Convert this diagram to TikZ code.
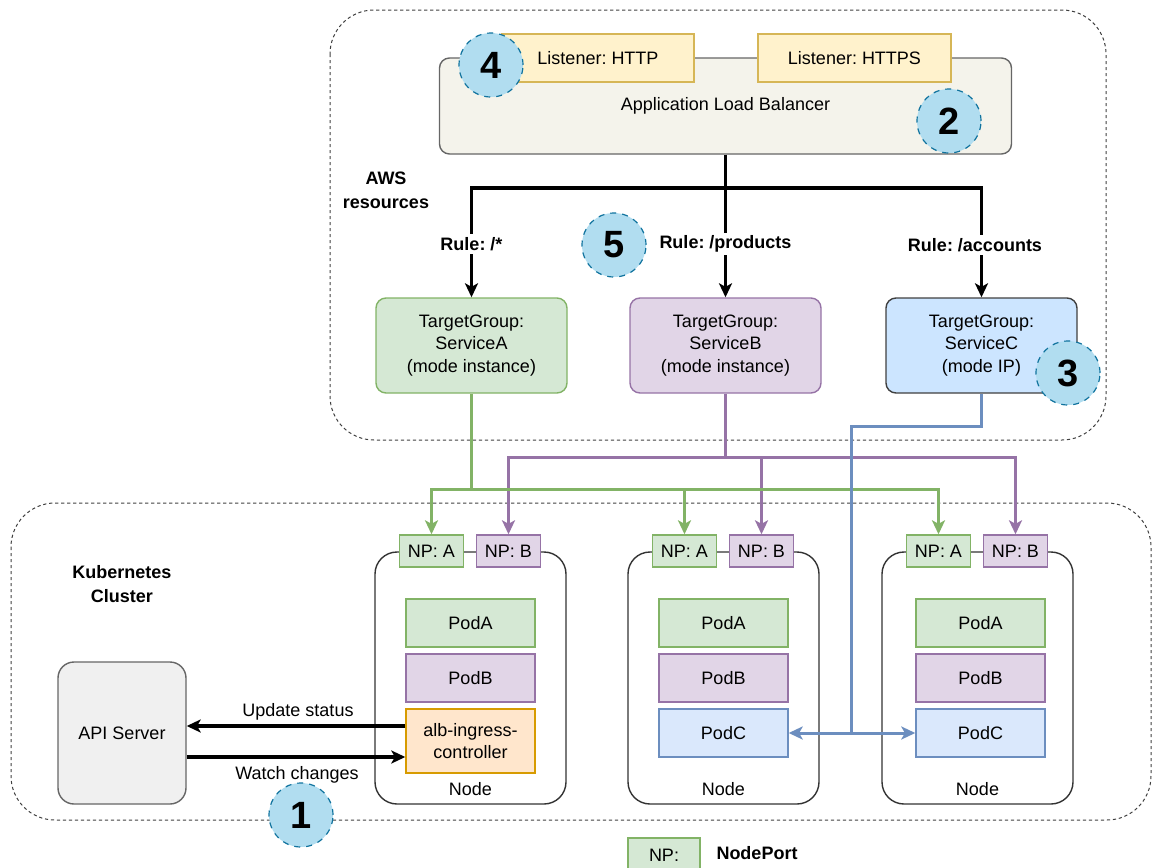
\documentclass[tikz,border=0pt]{standalone}
\usepackage{fontspec}
\setmainfont{Liberation Sans}
\usepackage{tikz}
\usetikzlibrary{arrows.meta}
\frenchspacing
\definecolor{grnfill}{HTML}{D5E8D4}
\definecolor{grnline}{HTML}{82B366}
\definecolor{purfill}{HTML}{E1D5E7}
\definecolor{purline}{HTML}{9673A6}
\definecolor{blufill}{HTML}{DAE8FC}
\definecolor{bluline}{HTML}{6C8EBF}
\definecolor{tgcfill}{HTML}{CCE5FF}
\definecolor{orgfill}{HTML}{FFE6CC}
\definecolor{orgline}{HTML}{D79B00}
\definecolor{ylwfill}{HTML}{FFF2CC}
\definecolor{ylwline}{HTML}{D6B656}
\definecolor{albfill}{HTML}{F4F3EB}
\definecolor{apifill}{HTML}{F0F0F0}
\definecolor{numfill}{HTML}{B1DDF0}
\definecolor{numline}{HTML}{10739E}
\tikzset{
  font={\fontsize{9pt}{11.25pt}\selectfont}}
\tikzset{
  box/.style={draw, line width=0.7pt, align=center},
  pgreen/.style={box, fill=grnfill, draw=grnline},
  ppurple/.style={box, fill=purfill, draw=purline},
  pblue/.style={box, fill=blufill, draw=bluline},
  podbox/.style={minimum width=64.5pt, minimum height=24pt},
  npbox/.style={minimum width=32pt, minimum height=16pt},
  tgbox/.style={box, rounded corners=5pt, minimum width=95.5pt, minimum height=47.5pt},
  kbnode/.style={draw=black!80, line width=0.7pt, rounded corners=11pt, minimum width=95.5pt, minimum height=126pt},
  numcirc/.style={circle, fill=numfill, draw=numline, dashed, line width=0.6pt, minimum size=32pt, font={\fontsize{19pt}{19pt}\selectfont\bfseries}},
  region/.style={draw=black!75, dash pattern=on 1.6pt off 1.4pt, line width=0.5pt, rounded corners=22pt},
  blkline/.style={line width=1.6pt, black},
  colline/.style={line width=1.5pt},
  tip/.style={-{Stealth[length=7pt, width=6.5pt, inset=1.8pt]}},
  rulelbl/.style={fill=white, inner sep=1.5pt, font={\fontsize{9pt}{11pt}\selectfont\bfseries}},
  boldlbl/.style={align=center, font={\fontsize{9pt}{12pt}\selectfont\bfseries}}}

\begin{document}
\begin{tikzpicture}[x=0.5pt,y=-0.5pt]
\tikzstyle{every node}+=[inner sep=0pt]
\useasboundingbox (0,0) rectangle (1153,868);
\draw [region] (330,10) rectangle (1106,440);
\draw [region] (11,503) rectangle (1151,820);
\node [boldlbl] (awslbl) at (386,190) {AWS\\resources};
\node [boldlbl] (k8slbl) at (122,584) {Kubernetes\\Cluster};

\node [box, fill=albfill, draw=black!60, rounded corners=5pt, minimum width=286pt, minimum height=48pt] (alb) at (725.5,106) {Application Load Balancer};
\node [box, fill=ylwfill, draw=ylwline, minimum width=96pt, minimum height=24pt] (lhttp) at (598,58) {Listener: HTTP};
\node [box, fill=ylwfill, draw=ylwline, minimum width=96.5pt, minimum height=24pt] (lhttps) at (854.5,58) {Listener: HTTPS};

\node [tgbox, pgreen] (tga) at (471.5,345.5) {TargetGroup:\\ServiceA\\(mode instance)};
\node [tgbox, ppurple] (tgb) at (725.5,345.5) {TargetGroup:\\ServiceB\\(mode instance)};
\node [tgbox, fill=tgcfill, draw=black!75] (tgc) at (981.5,345.5) {TargetGroup:\\ServiceC\\(mode IP)};

\node [box, fill=apifill, draw=black!60, rounded corners=8pt, minimum width=64pt, minimum height=71pt] (api) at (122,733) {API Server};

\node [kbnode] (node1) at (470.5,678) {};
\node [kbnode] (node2) at (723.5,678) {};
\node [kbnode] (node3) at (977.5,678) {};
\node (nodelbl1) at (470.5,789) {Node};
\node (nodelbl2) at (723.5,789) {Node};
\node (nodelbl3) at (977.5,789) {Node};

\node [pgreen, npbox] (npa1) at (431.5,551) {NP: A};
\node [ppurple, npbox] (npb1) at (508.5,551) {NP: B};
\node [pgreen, npbox] (npa2) at (684.5,551) {NP: A};
\node [ppurple, npbox] (npb2) at (761.5,551) {NP: B};
\node [pgreen, npbox] (npa3) at (938.5,551) {NP: A};
\node [ppurple, npbox] (npb3) at (1015.5,551) {NP: B};

\node [pgreen, podbox] (poda1) at (470.5,623) {PodA};
\node [ppurple, podbox] (podb1) at (470.5,678) {PodB};
\node [box, fill=orgfill, draw=orgline, minimum width=64.5pt, minimum height=32pt] (ctrl) at (470.5,741) {alb-ingress-\\controller};
\node [pgreen, podbox] (poda2) at (723.5,623) {PodA};
\node [ppurple, podbox] (podb2) at (723.5,678) {PodB};
\node [pblue, podbox] (podc2) at (723.5,733) {PodC};
\node [pgreen, podbox] (poda3) at (980.5,623) {PodA};
\node [ppurple, podbox] (podb3) at (980.5,678) {PodB};
\node [pblue, podbox] (podc3) at (980.5,733) {PodC};

\coordinate (albj) at (725.5,188);
\draw [blkline] (alb.south) -- (albj);
\draw [blkline, tip] (albj) -| (tga.north);
\draw [blkline, tip] (albj) -- (tgb.north);
\draw [blkline, tip] (albj) -| (tgc.north);
\node [rulelbl] (rulea) at (471.5,244) {Rule: /*};
\node [rulelbl] (ruleb) at (725.5,244) {Rule: /products};
\node [rulelbl] (rulec) at (975,245) {Rule: /accounts};

\coordinate (pj) at (725.5,457);
\draw [colline, purline] (tgb.south) -- (pj);
\draw [colline, purline, tip] (pj) -| (npb1.north);
\draw [colline, purline, tip] (pj) -| (npb2.north);
\draw [colline, purline, tip] (pj) -| (npb3.north);
\coordinate (gj) at (471.5,489);
\draw [colline, grnline] (tga.south) -- (gj);
\draw [colline, grnline, tip] (gj) -| (npa1.north);
\draw [colline, grnline, tip] (gj) -| (npa2.north);
\draw [colline, grnline, tip] (gj) -| (npa3.north);
\coordinate (bj1) at (851,426);
\coordinate (bj2) at (851,733);
\draw [colline, bluline] (tgc.south) |- (bj1) -- (bj2);
\draw [colline, bluline, tip] (bj2) -- (podc2.east);
\draw [colline, bluline, tip] (bj2) -- (podc3.west);

\draw [blkline, tip] ([yshift=7.5pt]ctrl.west) -- ([yshift=7.5pt]ctrl.west -| api.east);
\draw [blkline, tip] ([yshift=-8pt]ctrl.west -| api.east) -- ([yshift=-8pt]ctrl.west);
\node (updlbl) at (298,712) {Update status};
\node (watchlbl) at (297,775) {Watch changes};

\node [numcirc] (num4) at (491,65) {4};
\node [numcirc] (num2) at (949,121) {2};
\node [numcirc] (num5) at (614,245) {5};
\node [numcirc] (num3) at (1068,373) {3};
\node [numcirc] (num1) at (301,815) {1};

\node [pgreen, minimum width=36pt, minimum height=17pt] (legnp) at (664,855) {NP:};
\node [boldlbl] (leglbl) at (757,853) {NodePort};
\end{tikzpicture}
\end{document}
